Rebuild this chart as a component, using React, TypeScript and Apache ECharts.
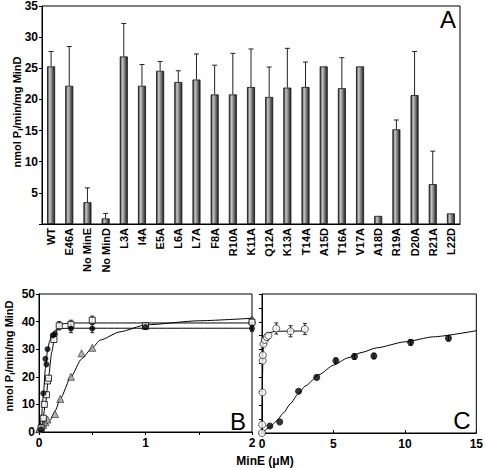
import React, { useEffect, useRef } from "react";
import * as echarts from "echarts";

const FONT = '"Liberation Sans", Arial, sans-serif';

// Panel A
const categories = ["WT", "E46A", "No MinE", "No MinD", "L3A", "I4A", "E5A", "L6A", "L7A", "F8A", "R10A", "K11A", "Q12A", "K13A", "T14A", "A15D", "T16A", "V17A", "A18D", "R19A", "D20A", "R21A", "L22D"];
const barValues = [25.3, 22.2, 3.5, 0.9, 26.9, 22.2, 24.6, 22.8, 23.2, 20.8, 20.8, 22.0, 20.4, 21.9, 22.0, 25.3, 21.8, 25.3, 1.3, 15.2, 20.7, 6.4, 1.7];
const barErrTop: (number | null)[] = [27.7, 28.5, 5.8, 1.7, 32.2, 25.6, 26.1, 24.6, 27.3, 25.5, 27.4, 28.1, 25.2, 28.2, 26.0, null, 26.7, null, null, 16.7, 27.7, 11.7, null];

// Panel B
const bCircleX = [0.02, 0.04, 0.06, 0.07, 0.08, 0.13, 0.15, 0.3, 0.5, 1, 2];
const bCircleY = [1, 14, 26.5, 24.5, 30, 35, 35.5, 37.5, 37.5, 38, 37.5];
const bCircleErr = [0, 0, 0, 0, 0, 0, 0, 1.5, 1.5, 0, 1];
const bSquareX = [0.02, 0.04, 0.05, 0.07, 0.08, 0.09, 0.14, 0.19, 0.3, 0.5, 1, 2];
const bSquareY = [1.5, 5, 10, 13.5, 18.5, 19.5, 33.5, 38.5, 39, 40.5, 38.5, 39.8];
const bSquareErr = [0, 0, 0, 0, 0, 0, 0, 1.5, 1.5, 1.5, 0, 1.5];
const bTriX = [0, 0.02, 0.04, 0.06, 0.08, 0.15, 0.2, 0.3, 0.4, 0.5, 1, 2];
const bTriY = [1, 1.5, 2.5, 3.5, 4.5, 6.5, 12, 20, 28.5, 30.5, 38.5, 40.8];
const bCircleFitX = [0, 0.02, 0.04, 0.06, 0.08, 0.1, 0.12, 0.15, 0.2, 0.3, 2];
const bCircleFitY = [0, 4, 13, 23, 29.5, 33, 35.3, 36.8, 37.5, 37.6, 37.6];
const bSquareFitX = [0, 0.03, 0.06, 0.09, 0.12, 0.15, 0.18, 0.22, 0.3, 2];
const bSquareFitY = [0, 3, 10, 20, 29, 35, 38, 39.2, 39.5, 39.5];
const bTriFitX = [0, 0.05, 0.1, 0.15, 0.2, 0.3, 0.4, 0.5, 0.575, 0.76, 1, 1.5, 2];
const bTriFitY = [0.5, 1.8, 4, 7.5, 12, 20, 26.5, 30.5, 33.3, 36.3, 38.8, 40.3, 41.2];

// Panel C
const cOpenX = [0, 0.01, 0.03, 0.05, 0.06, 0.1, 0.2, 0.33, 0.45, 1, 2, 3];
const cOpenY = [0, 3, 14.6, 26, 28, 32, 33.5, 34.5, 35, 37.6, 36.6, 37.4];
const cOpenErr = [0, 0, 0, 0, 0, 0, 0, 1, 1, 2, 2, 2];
const cFilledX = [0.55, 1.24, 2.56, 3.83, 5.17, 6.47, 7.83, 10.4, 13.05];
const cFilledY = [2.5, 4, 15, 20, 26, 27.5, 27.7, 32.6, 34.1];
const cFilledErr = [0, 0, 0, 0, 1, 1, 1, 1, 1];
const cOpenFitX = [0, 0.02, 0.04, 0.06, 0.1, 0.2, 0.4, 1, 3];
const cOpenFitY = [0, 10, 21, 27, 31.5, 34.5, 36, 36.6, 36.7];
const cFilledFitX = [0, 0.5, 1, 1.5, 2, 2.5, 3, 4, 5, 6, 7, 8, 10, 12, 15];
const cFilledFitY = [0, 1.9, 4.2, 7.2, 10.6, 13.9, 16.8, 21, 24.4, 27, 29, 30.6, 32.8, 34.6, 36.8];

const zip = (xs: number[], ys: number[]) => xs.map((x, i) => [x, ys[i]]);
const errData = (xs: number[], ys: number[], es: number[]) =>
  xs.map((x, i) => [x, ys[i] - es[i], ys[i] + es[i]]).filter((d, i) => es[i] > 0);

const makeErrRender = (bothCaps: boolean, capW: number) => (params: any, api: any) => {
  const x = api.value(0);
  const p1 = api.coord([x, api.value(1)]);
  const p2 = api.coord([x, api.value(2)]);
  const style = { stroke: "#222", lineWidth: 1 };
  const children: any[] = [
    { type: "line", shape: { x1: p1[0], y1: p1[1], x2: p2[0], y2: p2[1] }, style },
    { type: "line", shape: { x1: p2[0] - capW, y1: p2[1], x2: p2[0] + capW, y2: p2[1] }, style },
  ];
  if (bothCaps) {
    children.push({ type: "line", shape: { x1: p1[0] - capW, y1: p1[1], x2: p1[0] + capW, y2: p1[1] }, style });
  }
  return { type: "group", children };
};

const axisLabelStyle = { color: "#000", fontWeight: "bold", fontSize: 12, fontFamily: FONT };
const axisLineStyle = { show: true, lineStyle: { color: "#000", width: 1 } };

export default function App() {
  const ref = useRef<HTMLDivElement>(null);
  useEffect(() => {
    const chart = echarts.init(ref.current!, null, { renderer: "svg" });
    const barGradient = new echarts.graphic.LinearGradient(0, 0, 1, 0, [
      { offset: 0, color: "#2a2a2a" },
      { offset: 0.3, color: "#c8c8c8" },
      { offset: 0.55, color: "#8c8c8c" },
      { offset: 1, color: "#202020" },
    ]);
    const gridBase = { show: true, borderColor: "#000", borderWidth: 1, backgroundColor: "transparent" };
    const lineSeries = (xi: number, data: number[][]) => ({
      type: "line",
      xAxisIndex: xi,
      yAxisIndex: xi,
      data,
      smooth: 0.2,
      smoothMonotone: "x",
      showSymbol: false,
      symbol: "none",
      lineStyle: { color: "#000", width: 1 },
      z: 2,
      silent: true,
    });
    const richName = {
      a: { fontSize: 11, fontWeight: "bold", fontFamily: FONT, lineHeight: 14, fill: "#000" },
      s: { fontSize: 8, fontWeight: "bold", fontFamily: FONT, lineHeight: 8, verticalAlign: "bottom", fill: "#000" },
    };
    chart.setOption({
      animation: false,
      backgroundColor: "#fff",
      textStyle: { fontFamily: FONT },
      grid: [
        { ...gridBase, left: 42, top: 6, width: 418, height: 218 },
        { ...gridBase, left: 39, top: 294, width: 213, height: 138 },
        { ...gridBase, left: 262, top: 294, width: 216, height: 139 },
      ],
      xAxis: [
        {
          type: "category",
          gridIndex: 0,
          data: categories,
          axisLine: axisLineStyle,
          axisTick: { show: false },
          axisLabel: { ...axisLabelStyle, fontSize: 11, rotate: 90, interval: 0, margin: 4 },
          splitLine: { show: false },
        },
        {
          type: "value",
          gridIndex: 1,
          min: 0,
          max: 2,
          interval: 0.5,
          axisLine: axisLineStyle,
          axisTick: { show: true, length: 3, lineStyle: { color: "#000" } },
          axisLabel: { ...axisLabelStyle, margin: 5, formatter: (v: number) => (v % 1 === 0 ? String(v) : "") },
          splitLine: { show: false },
        },
        {
          type: "value",
          gridIndex: 2,
          min: 0,
          max: 15,
          interval: 5,
          axisLine: axisLineStyle,
          axisTick: { show: true, inside: true, length: 3, lineStyle: { color: "#000" } },
          axisLabel: { ...axisLabelStyle, margin: 5 },
          splitLine: { show: false },
        },
      ],
      yAxis: [
        {
          type: "value",
          gridIndex: 0,
          min: 0,
          max: 35,
          interval: 5,
          axisLine: axisLineStyle,
          axisTick: { show: true, length: 3, lineStyle: { color: "#000" } },
          axisLabel: { ...axisLabelStyle, margin: 4, formatter: (v: number) => (v === 0 ? "" : String(v)) },
          splitLine: { show: false },
        },
        {
          type: "value",
          gridIndex: 1,
          min: 0,
          max: 50,
          interval: 10,
          axisLine: axisLineStyle,
          axisTick: { show: true, length: 3, lineStyle: { color: "#000" } },
          axisLabel: { ...axisLabelStyle, margin: 4 },
          splitLine: { show: false },
        },
        {
          type: "value",
          gridIndex: 2,
          min: 0,
          max: 50,
          interval: 5,
          axisLine: axisLineStyle,
          axisTick: { show: true, length: 3, lineStyle: { color: "#000" } },
          axisLabel: { show: false },
          splitLine: { show: false },
        },
      ],
      series: [
        {
          type: "bar",
          xAxisIndex: 0,
          yAxisIndex: 0,
          data: barValues,
          barWidth: 8,
          itemStyle: { color: barGradient, borderColor: "#111", borderWidth: 0.8 },
          z: 2,
        },
        {
          type: "custom",
          xAxisIndex: 0,
          yAxisIndex: 0,
          renderItem: makeErrRender(false, 2.5),
          data: barErrTop
            .map((t, i) => (t === null ? null : [i, barValues[i], t]))
            .filter((d) => d !== null),
          z: 3,
          silent: true,
        },
        // Panel B
        lineSeries(1, zip(bCircleFitX, bCircleFitY)),
        lineSeries(1, zip(bSquareFitX, bSquareFitY)),
        lineSeries(1, zip(bTriFitX, bTriFitY)),
        { type: "custom", xAxisIndex: 1, yAxisIndex: 1, renderItem: makeErrRender(true, 2), data: errData(bCircleX, bCircleY, bCircleErr), z: 3, silent: true, clip: false },
        { type: "custom", xAxisIndex: 1, yAxisIndex: 1, renderItem: makeErrRender(true, 2), data: errData(bSquareX, bSquareY, bSquareErr), z: 3, silent: true, clip: false },
        {
          type: "scatter", xAxisIndex: 1, yAxisIndex: 1, data: zip(bTriX, bTriY), symbol: "triangle", symbolSize: 7,
          itemStyle: { color: "#a0a0a0", borderColor: "#222", borderWidth: 0.8 }, z: 4, clip: false,
        },
        {
          type: "scatter", xAxisIndex: 1, yAxisIndex: 1, data: zip(bSquareX, bSquareY), symbol: "rect", symbolSize: 6,
          itemStyle: { color: "#fff", borderColor: "#000", borderWidth: 1 }, z: 5, clip: false,
        },
        {
          type: "scatter", xAxisIndex: 1, yAxisIndex: 1, data: zip(bCircleX, bCircleY), symbol: "circle", symbolSize: 6,
          itemStyle: { color: "#000" }, z: 6, clip: false,
        },
        // Panel C
        lineSeries(2, zip(cOpenFitX, cOpenFitY)),
        lineSeries(2, zip(cFilledFitX, cFilledFitY)),
        { type: "custom", xAxisIndex: 2, yAxisIndex: 2, renderItem: makeErrRender(true, 2), data: errData(cOpenX, cOpenY, cOpenErr), z: 3, silent: true, clip: false },
        { type: "custom", xAxisIndex: 2, yAxisIndex: 2, renderItem: makeErrRender(true, 2), data: errData(cFilledX, cFilledY, cFilledErr), z: 3, silent: true, clip: false },
        {
          type: "scatter", xAxisIndex: 2, yAxisIndex: 2, data: zip(cOpenX, cOpenY), symbol: "circle", symbolSize: 7,
          itemStyle: { color: "#fff", borderColor: "#000", borderWidth: 0.8 }, z: 5, clip: false,
        },
        {
          type: "scatter", xAxisIndex: 2, yAxisIndex: 2, data: zip(cFilledX, cFilledY), symbol: "circle", symbolSize: 7,
          itemStyle: { color: "#000" }, z: 6, clip: false,
        },
      ],
      graphic: [
        {
          type: "text", x: 17, y: 112, rotation: Math.PI / 2,
          style: { text: "{a|nmol P}{s|i}{a|/min/mg MinD}", align: "center", verticalAlign: "middle", fill: "#000", rich: richName },
        },
        {
          type: "text", x: 9, y: 356, rotation: Math.PI / 2,
          style: { text: "{a|nmol P}{s|i}{a|/min/mg MinD}", align: "center", verticalAlign: "middle", fill: "#000", rich: richName },
        },
        {
          type: "text", x: 265, y: 461,
          style: { text: "MinE (μM)", align: "center", verticalAlign: "middle", fontSize: 12, fontWeight: "bold", fontFamily: FONT, fill: "#000" },
        },
        { type: "text", x: 448, y: 19, style: { text: "A", align: "center", verticalAlign: "middle", fontSize: 24, fontFamily: FONT, fill: "#000" } },
        { type: "text", x: 238, y: 421, style: { text: "B", align: "center", verticalAlign: "middle", fontSize: 24, fontFamily: FONT, fill: "#000" } },
        { type: "text", x: 462, y: 420, style: { text: "C", align: "center", verticalAlign: "middle", fontSize: 24, fontFamily: FONT, fill: "#000" } },
      ],
    });
    return () => chart.dispose();
  }, []);
  return <div ref={ref} style={{ position: "absolute", left: 0, top: 0, width: 486, height: 468 }} />;
}
